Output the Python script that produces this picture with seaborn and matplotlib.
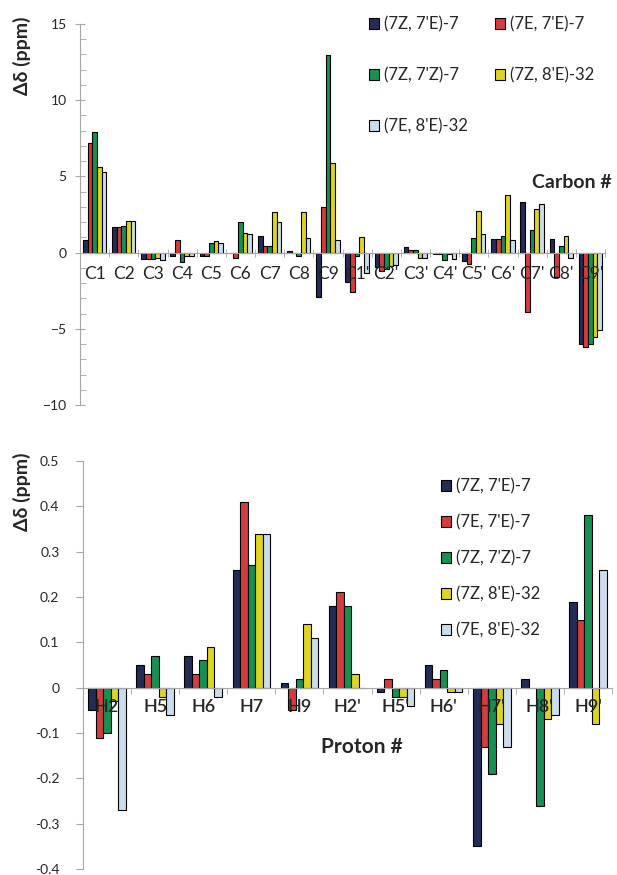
import numpy as np
import pandas as pd
import matplotlib.pyplot as plt
import seaborn as sns
from matplotlib.ticker import MultipleLocator

# Data
compounds = ["(7Z, 7'E)-7", "(7E, 7'E)-7", "(7Z, 7'Z)-7", "(7Z, 8'E)-32", "(7E, 8'E)-32"]
colors = ["#1b255e", "#ed2224", "#00a650", "#fff200", "#c5dcf1"]

carbons = ["C1", "C2", "C3", "C4", "C5", "C6", "C7", "C8", "C9",
           "C1'", "C2'", "C3'", "C4'", "C5'", "C6'", "C7'", "C8'", "C9'"]
carbon_7Z7E = [0.85, 1.66, -0.4, -0.25, -0.25, -0.05, 1.09, 0.1, -2.9,
               -1.92, -0.94, 0.37, -0.1, -0.57, 0.92, 3.31, 0.92, -6.03]
carbon_7E7E = [7.17, 1.66, -0.4, 0.85, -0.25, -0.33, 0.41, 0.0, 2.98,
               -2.57, -1.2, 0.15, -0.1, -0.72, 0.92, -3.89, -1.6, -6.18]
carbon_7Z7Z = [7.89, 1.72, -0.4, -0.6, 0.6, 1.98, 0.41, -0.25, 12.94,
               -0.24, -1.05, 0.2, -0.46, 0.98, 1.09, 1.5, 0.41, -6.03]
carbon_7Z8E = [5.6, 2.07, -0.35, -0.25, 0.75, 1.3, 2.66, 2.66, 5.86,
               1.03, -0.9, -0.33, -0.1, 2.72, 3.79, 2.88, 1.09, -5.52]
carbon_7E8E = [5.27, 2.07, -0.5, -0.25, 0.6, 1.25, 1.98, 0.98, 0.85,
               -1.33, -0.83, -0.33, -0.4, 1.24, 0.85, 3.16, -0.33, -5.09]

protons = ["H2", "H5", "H6", "H7", "H9", "H2'", "H5'", "H6'", "H7'", "H8'", "H9'"]
proton_7Z7E = [-0.05, 0.05, 0.07, 0.26, 0.01, 0.18, -0.01, 0.05, -0.35, 0.02, 0.19]
proton_7E7E = [-0.11, 0.03, 0.03, 0.41, -0.05, 0.21, 0.02, 0.02, -0.13, 0.0, 0.15]
proton_7Z7Z = [-0.10, 0.07, 0.06, 0.27, 0.02, 0.18, -0.02, 0.04, -0.19, -0.26, 0.38]
proton_7Z8E = [-0.03, -0.02, 0.09, 0.34, 0.14, 0.03, -0.02, -0.01, -0.08, -0.07, -0.08]
proton_7E8E = [-0.27, -0.06, -0.02, 0.34, 0.11, 0.0, -0.04, -0.01, -0.13, -0.06, 0.26]


def long_form(labels, series):
    rows = []
    for name, vals in zip(compounds, series):
        for lab, v in zip(labels, vals):
            rows.append({"atom": lab, "value": v, "compound": name})
    return pd.DataFrame(rows)


carbon_df = long_form(carbons, [carbon_7Z7E, carbon_7E7E, carbon_7Z7Z, carbon_7Z8E, carbon_7E8E])
proton_df = long_form(protons, [proton_7Z7E, proton_7E7E, proton_7Z7Z, proton_7Z8E, proton_7E8E])

sns.set_style("white")
plt.rcParams["font.family"] = ["Lato", "DejaVu Sans"]

W, H = 617, 875
fig = plt.figure(figsize=(W / 100, H / 100), dpi=100)


def px_axes(x0, y0, x1, y1):
    return fig.add_axes([x0 / W, 1 - y1 / H, (x1 - x0) / W, (y1 - y0) / H])


grey = "#a6a6a6"


def style_axes(ax, n):
    for s in ["top", "right"]:
        ax.spines[s].set_visible(False)
    ax.spines["left"].set_color(grey)
    ax.spines["bottom"].set_color(grey)
    ax.spines["bottom"].set_position(("data", 0))
    ax.set_axisbelow(False)
    ax.set_xlim(-0.5, n - 0.5)
    ax.set_xticks(np.arange(n) + 0.5, minor=True)
    ax.set_xlabel("")
    ax.set_ylabel("")


# ---- Top: carbons ----
ax1 = px_axes(80, 24, 605, 405)
sns.barplot(data=carbon_df, x="atom", y="value", hue="compound", palette=colors,
            edgecolor="black", linewidth=0.8, width=0.8, ax=ax1)
style_axes(ax1, len(carbons))
ax1.set_ylim(-10, 15)
ax1.yaxis.set_major_locator(MultipleLocator(5))
ax1.yaxis.set_minor_locator(MultipleLocator(1))
ax1.tick_params(axis="y", which="major", direction="inout", length=7, color=grey,
                labelsize=10, pad=6, left=True)
ax1.tick_params(axis="y", which="minor", direction="in", length=4, color=grey, left=True)
ax1.tick_params(axis="x", which="major", length=0, labelsize=12.5, pad=10)
ax1.tick_params(axis="x", which="minor", direction="inout", length=6, color=grey, bottom=True)

h, l = ax1.get_legend_handles_labels()
order = [0, 2, 4, 1, 3]
ax1.legend([h[i] for i in order], [l[i] for i in order], ncol=2, frameon=False,
           loc="upper left", bbox_to_anchor=(274 / 525, 1.06), fontsize=12,
           handlelength=0.6, handleheight=0.6, handletextpad=0.3,
           labelspacing=2.1, columnspacing=1.6)

fig.text(22 / W, 1 - 56 / H, "Δδ (ppm)", rotation=90, ha="center", va="center",
         fontsize=14, fontweight="bold")
fig.text(572 / W, 1 - 183 / H, "Carbon #", ha="center", va="center",
         fontsize=14, fontweight="bold")

# ---- Bottom: protons ----
ax2 = px_axes(83, 461, 612, 869)
sns.barplot(data=proton_df, x="atom", y="value", hue="compound", palette=colors,
            edgecolor="black", linewidth=0.8, width=0.78, ax=ax2)
style_axes(ax2, len(protons))
ax2.set_ylim(-0.4, 0.5)
ax2.yaxis.set_major_locator(MultipleLocator(0.1))
ax2.yaxis.set_major_formatter(plt.FuncFormatter(lambda v, p: "0" if abs(v) < 1e-9 else f"{v:.1f}"))
ax2.tick_params(axis="y", which="major", direction="out", length=5, color=grey,
                labelsize=10, pad=12, left=True)
ax2.tick_params(axis="x", which="major", length=0, labelsize=13, pad=8)
ax2.tick_params(axis="x", which="minor", direction="out", length=4, color=grey, bottom=True)
for t in ax2.get_xticklabels():
    t.set_fontweight("semibold")

ax2.legend(frameon=False, loc="upper left", bbox_to_anchor=(343 / 529, 0.995),
           fontsize=12, handlelength=0.6, handleheight=0.6, handletextpad=0.3,
           labelspacing=1.2)

fig.text(22 / W, 1 - 492 / H, "Δδ (ppm)", rotation=90, ha="center", va="center",
         fontsize=14, fontweight="bold")
fig.text(362 / W, 1 - 747 / H, "Proton #", ha="center", va="center",
         fontsize=15, fontweight="bold")

fig.savefig("out.png", dpi=100)
